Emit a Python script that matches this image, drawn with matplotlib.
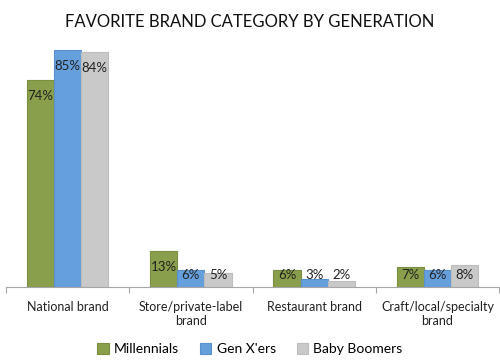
import numpy as np
import matplotlib
matplotlib.use("Agg")
from matplotlib import pyplot as plt

categories = ["National brand", "Store/private-label\nbrand", "Restaurant brand", "Craft/local/specialty\nbrand"]
series_names = ["Millennials", "Gen X'ers", "Baby Boomers"]
millennials = [74, 13, 6, 7]
genx = [85, 6, 3, 6]
boomers = [84, 5, 2, 8]

colors = ["#8a9f4b", "#659fdc", "#c9c9c9"]
edges = ["#7a8f3f", "#5a90cc", "#bdbdbd"]

plt.rcParams['font.family'] = ['Lato', 'DejaVu Sans']

fig = plt.figure(figsize=(5, 3.6), dpi=100)
ax = fig.add_axes([0.012, 0.203, 0.986, 0.698])

x = np.arange(len(categories))
w = 0.22
for i, (name, vals) in enumerate(zip(series_names, [millennials, genx, boomers])):
    pos = x + (i - 1) * w
    ax.bar(pos, vals, width=w, color=colors[i], edgecolor=edges[i], linewidth=0.8, label=name)
    # labels sit just inside the bar top, kept clear of the baseline
    for p, v in zip(pos, vals):
        ax.text(p, max(v - 5.7, 4.3), f"{v}%", ha='center', va='center', fontsize=9.5, color='#222222')

ax.set_xlim(-0.5, 3.5)
ax.set_ylim(0, 90)
ax.set_yticks([])
for s in ['top', 'right', 'left']:
    ax.spines[s].set_visible(False)
ax.spines['bottom'].set_color('#a6a6a6')
ax.set_xticks(np.arange(-0.5, 4.0, 1.0), minor=False)
ax.set_xticklabels([])
ax.tick_params(axis='x', which='major', length=4, color='#a6a6a6')
ax.set_xticks(x, minor=True)
ax.set_xticklabels(categories, minor=True, fontsize=9, color='#222222')
ax.tick_params(axis='x', which='minor', length=0, pad=10)

fig.text(0.5, 0.94, "FAVORITE BRAND CATEGORY BY GENERATION", ha='center', va='center',
         fontsize=12, color='#111111')

fig.legend(loc='center', bbox_to_anchor=(0.5, 0.03), ncol=3, frameon=False, fontsize=10,
           handlelength=0.8, handleheight=0.8, handletextpad=0.4, columnspacing=1.5)

fig.savefig("out.png", dpi=100)
